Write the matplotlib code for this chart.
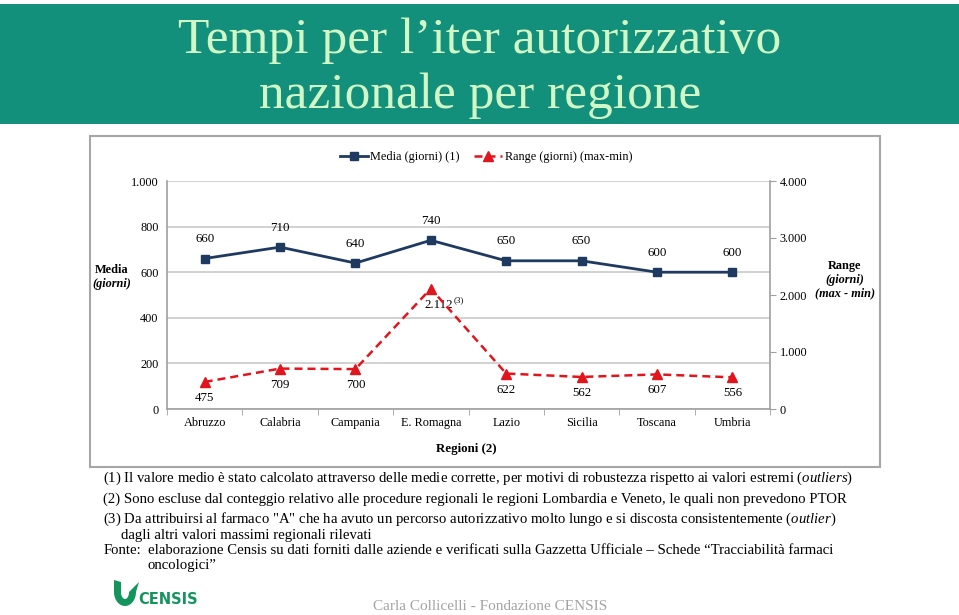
import matplotlib
matplotlib.use("Agg")
import matplotlib.pyplot as plt
from matplotlib.patches import Rectangle, Polygon
import numpy as np

# ---------------- data ----------------
regioni = ["Abruzzo", "Calabria", "Campania", "E. Romagna", "Lazio", "Sicilia", "Toscana", "Umbria"]
media_giorni = [660, 710, 640, 740, 650, 650, 600, 600]
range_giorni = [475, 709, 700, 2112, 622, 562, 607, 556]
left_ticks = [0, 200, 400, 600, 800, 1000]
left_tick_labels = ["0", "200", "400", "600", "800", "1.000"]
right_ticks = [0, 1000, 2000, 3000, 4000]
right_tick_labels = ["0", "1.000", "2.000", "3.000", "4.000"]
range_labels = ["475", "709", "700", "2.112", "622", "562", "607", "556"]

title_lines = ["Tempi per l\u2019iter autorizzativo", "nazionale per regione"]

SERIF = "Liberation Serif"
plt.rcParams["mathtext.fontset"] = "custom"
plt.rcParams["mathtext.rm"] = SERIF
plt.rcParams["mathtext.it"] = SERIF + ":italic"

W, H = 959, 615
fig = plt.figure(figsize=(W / 100, H / 100), dpi=100)
fig.patch.set_facecolor("white")

def fx(x):
    return x / W

def fy(y):
    return 1 - y / H

# ---------------- header band ----------------
fig.patches.append(Rectangle((0, fy(124)), 1, (124 - 4) / H, transform=fig.transFigure,
                             facecolor="#12907c", edgecolor="none", zorder=-2))
fig.text(fx(480), fy(41), title_lines[0], ha="center", va="center", fontsize=37,
         family=SERIF, color="#d2f7c6")
fig.text(fx(480), fy(96), title_lines[1], ha="center", va="center", fontsize=37,
         family=SERIF, color="#d2f7c6")

# ---------------- chart box ----------------
fig.patches.append(Rectangle((fx(90), fy(467)), (880 - 90) / W, (467 - 136) / H,
                             transform=fig.transFigure, facecolor="white",
                             edgecolor="#a6a6a6", linewidth=1.5, zorder=-2))

navy = "#1f3a60"
red = "#e2141c"
grid_c = "#c9c9c9"

ax = fig.add_axes([fx(167), fy(409), (770 - 167) / W, (409 - 181) / H])
ax.set_zorder(1)
ax.set_facecolor("none")
x = np.arange(len(regioni))
ax.set_xlim(-0.5, len(regioni) - 0.5)
ax.set_ylim(0, 1000)
ax.set_yticks(left_ticks)
ax.set_yticklabels(left_tick_labels, family=SERIF, fontsize=8.8)
ax.yaxis.grid(True, color=grid_c, linewidth=1.2)
ax.set_axisbelow(True)
ax.tick_params(axis="y", length=0, pad=6)
ax.set_xticks(x)
ax.set_xticklabels(regioni, family=SERIF, fontsize=8.8)
ax.set_xticks(np.arange(len(regioni) + 1) - 0.5, minor=True)
ax.tick_params(axis="x", which="major", length=0, pad=6)
ax.tick_params(axis="x", which="minor", length=4, color="#a0a0a0", direction="out")
for s in ["top", "right"]:
    ax.spines[s].set_visible(False)
ax.spines["left"].set_color("#a0a0a0")
ax.spines["bottom"].set_color("#a0a0a0")
ax.spines["left"].set_linewidth(1.2)
ax.spines["bottom"].set_linewidth(1.2)

l1, = ax.plot(x, media_giorni, color=navy, linewidth=2, marker="s", markersize=5.5,
              zorder=4, label="Media (giorni) (1)")
for xi, v in zip(x, media_giorni):
    ax.annotate(str(v), (xi, v), xytext=(0, 14), textcoords="offset points",
                ha="center", va="center", family=SERIF, fontsize=9.3)

ax2 = ax.twinx()
ax2.set_zorder(2)
ax2.set_facecolor("none")
ax2.set_ylim(0, 4000)
ax2.set_yticks(right_ticks)
ax2.set_yticklabels(right_tick_labels, family=SERIF, fontsize=8.8)
ax2.tick_params(axis="y", length=4, color="#a0a0a0", direction="out", pad=3)
for s in ["top", "left", "bottom"]:
    ax2.spines[s].set_visible(False)
ax2.spines["right"].set_color("#a0a0a0")
ax2.spines["right"].set_linewidth(1.2)
l2, = ax2.plot(x, range_giorni, color=red, linewidth=1.8, linestyle=(0, (3.2, 2)),
               marker="^", markersize=6.5, zorder=4, label="Range (giorni) (max-min)")
for xi, v, lab in zip(x, range_giorni, range_labels):
    if lab == "2.112":
        ax2.annotate(lab, (xi, v), xytext=(6, -12), textcoords="offset points",
                     ha="center", va="center", family=SERIF, fontsize=9.3)
        ax2.annotate("(3)", (xi, v), xytext=(20.5, -8), textcoords="offset points",
                     ha="center", va="center", family=SERIF, fontsize=6.5)
    else:
        ax2.annotate(lab, (xi, v), xytext=(0, -11.5), textcoords="offset points",
                     ha="center", va="center", family=SERIF, fontsize=9.3)

# legend
fig.legend(handles=[l1, l2], loc="center", bbox_to_anchor=(fx(486), fy(157)), ncol=2,
           frameon=False, prop={"family": SERIF, "size": 8.8}, handlelength=2.3,
           handletextpad=0.2, columnspacing=1.2)

# axis titles
fig.text(fx(112), fy(270), "Media", ha="center", va="center", family=SERIF,
         fontsize=8.8, weight="bold")
fig.text(fx(112), fy(284), "(giorni)", ha="center", va="center", family=SERIF,
         fontsize=8.8, weight="bold", style="italic")
fig.text(fx(845), fy(266), "Range", ha="center", va="center", family=SERIF,
         fontsize=8.8, weight="bold")
fig.text(fx(845), fy(280), "(giorni)", ha="center", va="center", family=SERIF,
         fontsize=8.8, weight="bold", style="italic")
fig.text(fx(845), fy(293), "(max - min)", ha="center", va="center", family=SERIF,
         fontsize=8.8, weight="bold", style="italic")
fig.text(fx(466), fy(449), "Regioni (2)", ha="center", va="center", family=SERIF,
         fontsize=9.3, weight="bold")

# ---------------- footnotes ----------------
fn = 10.6
fig.text(fx(103), fy(478), r"(1) Il valore medio è stato calcolato attraverso delle medie corrette, per motivi di robustezza rispetto ai valori estremi $\mathit{(outliers)}$",
         ha="left", va="center", family=SERIF, fontsize=fn)
fig.text(fx(103), fy(499), "(2) Sono escluse dal conteggio relativo alle procedure regionali le regioni Lombardia e Veneto, le quali non prevedono PTOR",
         ha="left", va="center", family=SERIF, fontsize=fn)
fig.text(fx(103), fy(519), r'(3) Da attribuirsi al farmaco "A" che ha avuto un percorso autorizzativo molto lungo e si discosta consistentemente $\mathit{(outlier)}$',
         ha="left", va="center", family=SERIF, fontsize=fn)
fig.text(fx(121), fy(535), "dagli altri valori massimi regionali rilevati",
         ha="left", va="center", family=SERIF, fontsize=fn)
fig.text(fx(104), fy(550), "Fonte:", ha="left", va="center", family=SERIF, fontsize=fn)
fig.text(fx(148), fy(550), "elaborazione Censis su dati forniti dalle aziende e verificati sulla Gazzetta Ufficiale \u2013 Schede \u201cTracciabilità farmaci",
         ha="left", va="center", family=SERIF, fontsize=fn)
fig.text(fx(148), fy(566), "oncologici\u201d", ha="left", va="center", family=SERIF, fontsize=fn)

# ---------------- logo ----------------
green = "#14955e"
lax = fig.add_axes([fx(112), fy(610), (200 - 112) / W, (610 - 578) / H])
lax.set_xlim(0, 88)
lax.set_ylim(0, 32)
lax.axis("off")
t = np.linspace(np.pi, 2 * np.pi, 40)
outer = np.column_stack([13 + 11 * np.cos(t), 18 + 14 * np.sin(t)])
inner = np.column_stack([13 + 4 * np.cos(t[::-1]), 18 + 7 * np.sin(t[::-1])])
shape = np.vstack([[[2, 30]], outer, [[27, 28]], inner, [[9, 28]]])
lax.add_patch(Polygon(shape, closed=True, facecolor=green, edgecolor="none"))
lax.text(26, 11, "CENSIS", family="DejaVu Sans", weight="bold", fontsize=10.5,
         color=green, ha="left", va="center")

fig.text(fx(490), fy(607), "Carla Collicelli - Fondazione CENSIS", ha="center", va="center",
         family=SERIF, fontsize=11, color="#a3a3a3")

fig.savefig("out.png", dpi=100)
